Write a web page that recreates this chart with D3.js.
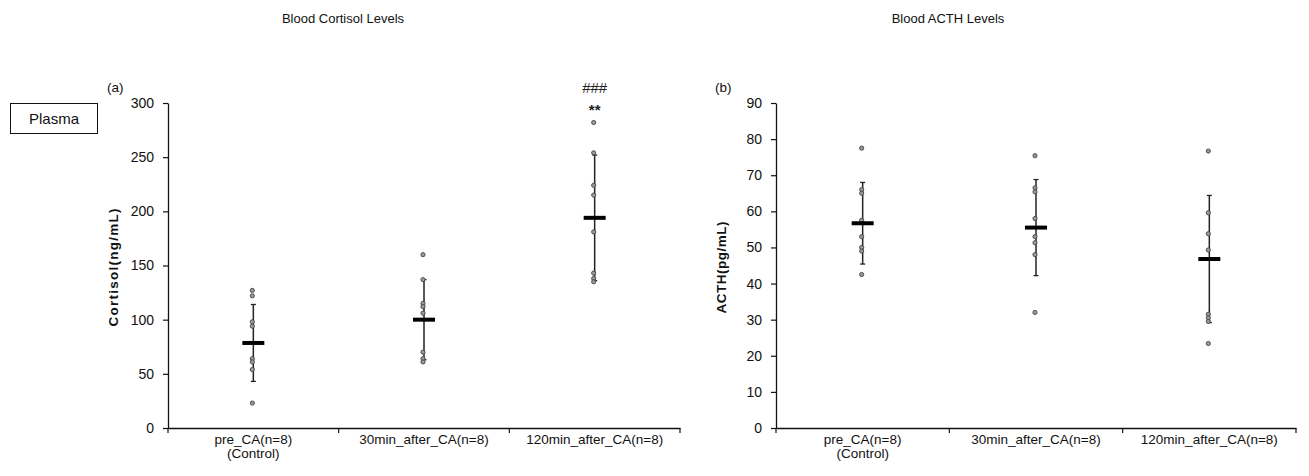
<!DOCTYPE html>
<html>
<head>
<meta charset="utf-8">
<script src="https://cdn.jsdelivr.net/npm/d3@7"></script>
<style>
  body { margin: 0; background: #fff; }
  svg { font-family: "Liberation Sans", Arial, sans-serif; }
  .tick text { fill: #111; }
</style>
</head>
<body>
<svg width="1309" height="476"></svg>
<script>
// categories shared by both panels
var categories = ["pre_CA(n=8)", "30min_after_CA(n=8)", "120min_after_CA(n=8)"]
var categorySub = ["(Control)", "", ""]

// (a) cortisol, ng/mL
var cortisolPoints = [
  [127, 122, 98, 94, 64, 61, 54, 23],
  [160, 137, 115, 112, 106, 70, 64, 61],
  [282, 254, 224, 215, 181, 143, 138, 135]
]
var cortisolMean = [78.5, 100, 194]
var cortisolSD = [35.5, 37, 58]
var cortisolTicks = [0, 50, 100, 150, 200, 250, 300]

// (b) ACTH, pg/mL
var acthPoints = [
  [77.5, 66, 65, 57.5, 53, 50, 49, 42.5],
  [75.4, 66.5, 65.4, 58, 53, 51.3, 48, 32],
  [76.7, 59.6, 53.8, 49.3, 31.5, 30.5, 29.5, 23.4]
]
var acthMean = [56.7, 55.5, 46.8]
var acthSD = [11.3, 13.3, 17.6]
var acthTicks = [0, 10, 20, 30, 40, 50, 60, 70, 80, 90]

var svg = d3.select("svg")

var plotTop = 103, plotBottom = 428

function drawPanel(p) {
  var g = svg.append("g")

  var x = d3.scaleBand().domain(categories).range([p.x0, p.x1])
  var y = d3.scaleLinear().domain([0, d3.max(p.ticks)]).range([plotBottom, plotTop])

  // title + panel letter
  g.append("text").attr("x", p.titleX).attr("y", 23)
    .attr("text-anchor", "middle").attr("font-size", 13).attr("fill", "#111")
    .text(p.title)
  g.append("text").attr("x", p.x0 - 61).attr("y", 92)
    .attr("font-size", 13.5).attr("fill", "#111").text(p.letter)

  // y axis
  var ya = g.append("g").attr("transform", "translate(" + p.x0 + ",0)")
    .call(d3.axisLeft(y).tickValues(p.ticks).tickSize(5).tickPadding(9).tickSizeOuter(0))
  ya.select(".domain").attr("stroke", "#111").attr("stroke-width", 1.3)
  ya.selectAll(".tick line").attr("stroke", "#111").attr("stroke-width", 1.2)
  ya.selectAll(".tick text").attr("font-size", 14)

  g.append("text")
    .attr("transform", "translate(" + (p.x0 - 50) + "," + ((plotTop + plotBottom) / 2 + 2) + ") rotate(-90)")
    .attr("text-anchor", "middle").attr("font-size", 13.5).attr("font-weight", "bold")
    .attr("textLength", p.ylabelLen).attr("lengthAdjust", "spacing")
    .attr("fill", "#111").text(p.ylabel)

  // x axis
  var xa = g.append("g").attr("transform", "translate(0," + plotBottom + ")")
    .call(d3.axisBottom(x).tickSize(0).tickFormat("").tickSizeOuter(0))
  xa.select(".domain").attr("stroke", "#111").attr("stroke-width", 1.3)
  var edges = categories.map(function(c) { return x(c) }).concat([p.x1])
  g.selectAll(".xt").data(edges).enter().append("line")
    .attr("x1", function(d) { return d }).attr("x2", function(d) { return d })
    .attr("y1", plotBottom).attr("y2", plotBottom + 5)
    .attr("stroke", "#111").attr("stroke-width", 1.2)

  g.selectAll(".xl").data(categories).enter().append("text")
    .attr("x", function(d) { return x(d) + x.bandwidth() / 2 })
    .attr("y", plotBottom + 16).attr("text-anchor", "middle")
    .attr("font-size", 13.5).attr("fill", "#111").text(function(d) { return d })
  g.selectAll(".xs").data(categorySub).enter().append("text")
    .attr("x", function(d, i) { return x(categories[i]) + x.bandwidth() / 2 })
    .attr("y", plotBottom + 30).attr("text-anchor", "middle")
    .attr("font-size", 13.5).attr("fill", "#111").text(function(d) { return d })

  categories.forEach(function(c, i) {
    var cx = x(c) + x.bandwidth() / 2
    var m = p.mean[i], s = p.sd[i]
    // error bar
    g.append("line").attr("x1", cx).attr("x2", cx)
      .attr("y1", y(m - s)).attr("y2", y(m + s))
      .attr("stroke", "#222").attr("stroke-width", 1.5)
    ;[m - s, m + s].forEach(function(v) {
      g.append("line").attr("x1", cx - 2.5).attr("x2", cx + 2.5)
        .attr("y1", y(v)).attr("y2", y(v))
        .attr("stroke", "#222").attr("stroke-width", 1.3)
    })
    // points
    g.selectAll(null).data(p.points[i]).enter().append("circle")
      .attr("cx", cx - 1).attr("cy", function(d) { return y(d) })
      .attr("r", 2.1).attr("fill", "#999").attr("stroke", "#444").attr("stroke-width", 0.9)
    // mean
    g.append("line").attr("x1", cx - 11).attr("x2", cx + 11)
      .attr("y1", y(m)).attr("y2", y(m))
      .attr("stroke", "#000").attr("stroke-width", 4)

    if (p.marks && p.marks[i]) {
      g.append("text").attr("x", cx).attr("y", 115).attr("text-anchor", "middle")
        .attr("font-size", 15).attr("font-weight", "bold").attr("fill", "#222").text(p.marks[i][0])
      g.append("text").attr("x", cx).attr("y", 93).attr("text-anchor", "middle")
        .attr("font-size", 15).attr("fill", "#222").text(p.marks[i][1])
    }
  })
}

drawPanel({
  x0: 168, x1: 680, titleX: 343, title: "Blood Cortisol Levels", letter: "(a)",
  ylabel: "Cortisol(ng/mL)", ylabelLen: 118, ticks: cortisolTicks,
  points: cortisolPoints, mean: cortisolMean, sd: cortisolSD,
  marks: [null, null, ["**", "###"]]
})
drawPanel({
  x0: 776, x1: 1296, titleX: 948, title: "Blood ACTH Levels", letter: "(b)",
  ylabel: "ACTH(pg/mL)", ylabelLen: 92, ticks: acthTicks,
  points: acthPoints, mean: acthMean, sd: acthSD
})

// "Plasma" box
svg.append("rect").attr("x", 10.5).attr("y", 103.5).attr("width", 87).attr("height", 30)
  .attr("fill", "#fff").attr("stroke", "#111").attr("stroke-width", 1)
svg.append("text").attr("x", 54).attr("y", 124).attr("text-anchor", "middle")
  .attr("font-size", 15).attr("fill", "#111").text("Plasma")
</script>
</body>
</html>
